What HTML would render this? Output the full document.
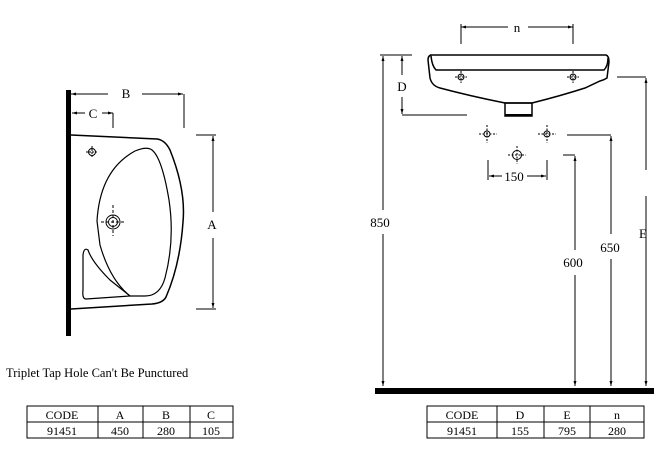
<!DOCTYPE html>
<html><head><meta charset="utf-8"><style>
html,body{margin:0;padding:0;background:#fff;}
svg{display:block;}
text{font-family:"Liberation Serif",serif;fill:#000;}
</style></head><body>
<svg width="670" height="455" viewBox="0 0 670 455" xmlns="http://www.w3.org/2000/svg">
<defs>
<marker id="a" viewBox="0 0 10 10" refX="10" refY="5" markerWidth="5" markerHeight="5" orient="auto-start-reverse"><path d="M0,2 L10,5 L0,8 z" fill="#000"/></marker>
</defs>
<g stroke="#000" fill="none" stroke-width="1">
<!-- LEFT -->
<rect x="66" y="90" width="5" height="246" fill="#000" stroke="none"/>
<line x1="71" y1="94" x2="108" y2="94" marker-start="url(#a)"/>
<line x1="142" y1="94" x2="183" y2="94" marker-end="url(#a)"/>
<line x1="184" y1="94" x2="184" y2="128"/>
<line x1="72" y1="113" x2="85" y2="113" marker-start="url(#a)"/>
<line x1="102" y1="113" x2="113" y2="113" marker-end="url(#a)"/>
<line x1="113" y1="113" x2="113" y2="128"/>
<line x1="196" y1="135" x2="216" y2="135"/>
<line x1="196" y1="309" x2="216" y2="309"/>
<line x1="213" y1="136" x2="213" y2="212" marker-start="url(#a)"/>
<line x1="213" y1="238" x2="213" y2="308" marker-end="url(#a)"/>
<path d="M71,135 L157,139 Q165,140 170,150 Q186,190 183,222 Q180,265 166,297 Q163,303 152,304 L71,309" stroke-width="1.5"/>
<path d="M97,221 Q100,170 135,151 Q147,146 152,150 Q162,158 169,200 Q175,240 165,278 Q160,296 145,296 L130,296 Q110,280 100,245 Z" stroke-width="1.2"/>
<path d="M88,250 Q92,262 110,280 Q125,292 130,296 L86,299 Q82,299 83,290 L83,255 Q84,247 88,250 Z" stroke-width="1.2"/>
<circle cx="92" cy="152" r="3.5"/>
<line x1="86" y1="152" x2="98" y2="152" stroke-dasharray="2,1"/><line x1="92" y1="146" x2="92" y2="158" stroke-dasharray="2,1"/>
<circle cx="113" cy="222" r="7"/><circle cx="113" cy="222" r="4.5"/>
<line x1="101" y1="222" x2="125" y2="222" stroke-dasharray="3,2"/><line x1="113" y1="205" x2="113" y2="236" stroke-dasharray="3,2"/>
<!-- RIGHT -->
<line x1="461" y1="24" x2="461" y2="44"/><line x1="573" y1="24" x2="573" y2="44"/>
<line x1="461" y1="27" x2="508" y2="27" marker-start="url(#a)"/>
<line x1="528" y1="27" x2="573" y2="27" marker-end="url(#a)"/>
<path d="M430,55 L606,55 Q609,56 609,62 L607,78 Q604,80 600,81 L585,88 Q560,96 532,103 L505,103 Q470,96 440,88 Q432,86 430,78 L428,60 Q428,55 432,55" stroke-width="1.5"/>
<path d="M431,56 Q432,66 436,70 L604,70 Q608,66 608,58" stroke-width="1.5"/>
<rect x="505" y="103" width="27" height="13" stroke-width="1.5"/>
<line x1="505" y1="115" x2="532" y2="115" stroke-width="2"/>
<line x1="380" y1="55" x2="412" y2="55"/>
<line x1="402" y1="115" x2="467" y2="115"/>
<line x1="402" y1="56" x2="402" y2="75" marker-start="url(#a)"/>
<line x1="402" y1="97" x2="402" y2="114" marker-end="url(#a)"/>
<line x1="383" y1="56" x2="383" y2="210" marker-start="url(#a)"/>
<line x1="383" y1="234" x2="383" y2="386" marker-end="url(#a)"/>
<line x1="617" y1="77" x2="646" y2="77"/>
<line x1="646" y1="78" x2="646" y2="170" marker-start="url(#a)"/>
<line x1="646" y1="196" x2="646" y2="386" marker-end="url(#a)"/>
<line x1="567" y1="135" x2="611" y2="135"/>
<line x1="611" y1="136" x2="611" y2="234" marker-start="url(#a)"/>
<line x1="611" y1="259" x2="611" y2="386" marker-end="url(#a)"/>
<line x1="563" y1="155" x2="575" y2="155"/>
<line x1="575" y1="156" x2="575" y2="250" marker-start="url(#a)"/>
<line x1="575" y1="275" x2="575" y2="386" marker-end="url(#a)"/>
<line x1="488" y1="160" x2="488" y2="180"/><line x1="547" y1="160" x2="547" y2="180"/>
<line x1="489" y1="176" x2="502" y2="176" marker-start="url(#a)"/>
<line x1="527" y1="176" x2="546" y2="176" marker-end="url(#a)"/>
<g stroke-dasharray="2,1.5">
<line x1="455" y1="77" x2="467" y2="77"/><line x1="461" y1="71" x2="461" y2="83"/>
<line x1="567" y1="77" x2="579" y2="77"/><line x1="573" y1="71" x2="573" y2="83"/>
<line x1="479" y1="134" x2="497" y2="134"/><line x1="487" y1="125" x2="487" y2="143"/>
<line x1="538" y1="134" x2="556" y2="134"/><line x1="547" y1="125" x2="547" y2="143"/>
<line x1="508" y1="155" x2="526" y2="155"/><line x1="517" y1="146" x2="517" y2="164"/>
</g>
<circle cx="461" cy="77" r="3"/><circle cx="573" cy="77" r="3"/>
<circle cx="487" cy="134" r="3"/><circle cx="547" cy="134" r="3"/><circle cx="517" cy="155" r="4.5"/>
<rect x="375" y="388" width="279" height="6" fill="#000" stroke="none"/>
<!-- tables -->
<rect x="27" y="406" width="206" height="32"/>
<line x1="27" y1="422" x2="233" y2="422"/>
<line x1="98" y1="406" x2="98" y2="438"/><line x1="143" y1="406" x2="143" y2="438"/><line x1="190" y1="406" x2="190" y2="438"/>
<rect x="427" y="406" width="217" height="32"/>
<line x1="427" y1="422" x2="644" y2="422"/>
<line x1="497" y1="406" x2="497" y2="438"/><line x1="544" y1="406" x2="544" y2="438"/><line x1="590" y1="406" x2="590" y2="438"/>
</g>
<g font-size="13" text-anchor="middle">
<text x="126" y="98">B</text><text x="93" y="118">C</text><text x="212" y="229">A</text>
<text x="517" y="32">n</text><text x="402" y="91">D</text>
<text x="514" y="181">150</text>
<text x="380" y="227">850</text><text x="573" y="267">600</text><text x="610" y="252">650</text><text x="643" y="238">E</text>
</g>
<text x="6" y="377" font-size="12.5">Triplet Tap Hole Can't Be Punctured</text>
<g font-size="12" text-anchor="middle">
<text x="62" y="419">CODE</text><text x="120" y="419">A</text><text x="166" y="419">B</text><text x="211" y="419">C</text>
<text x="62" y="435">91451</text><text x="120" y="435">450</text><text x="166" y="435">280</text><text x="211" y="435">105</text>
<text x="462" y="419">CODE</text><text x="520" y="419">D</text><text x="567" y="419">E</text><text x="617" y="419">n</text>
<text x="462" y="435">91451</text><text x="520" y="435">155</text><text x="567" y="435">795</text><text x="617" y="435">280</text>
</g>
</svg>
</body></html>
